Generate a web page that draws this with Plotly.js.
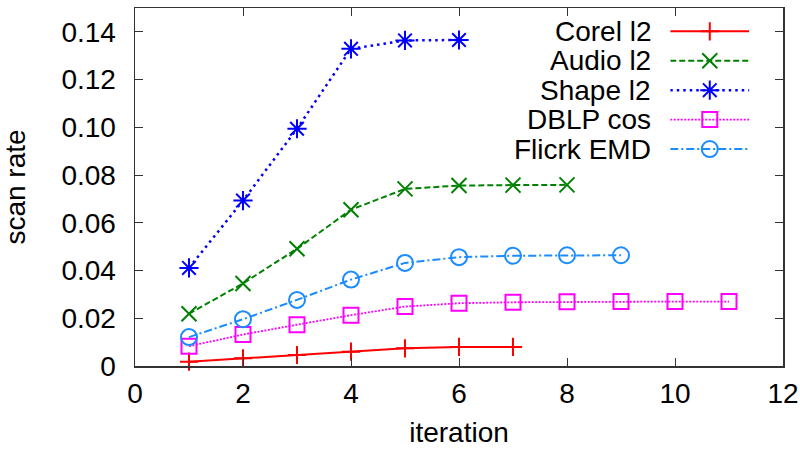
<!DOCTYPE html>
<html>
<head>
<meta charset="utf-8">
<script src="https://cdn.plot.ly/plotly-3.0.1.min.js"></script>
<style>html,body{margin:0;padding:0;background:#fff;}#chart{width:800px;height:450px;}</style>
</head>
<body>
<div id="chart"></div>
<script>
// ---- data ----
const seriesNames = ["Corel l2", "Audio l2", "Shape l2", "DBLP cos", "Flicrk EMD"];
const corelX = [1, 2, 3, 4, 5, 6, 7];
const corelY = [0.0018, 0.0032, 0.0046, 0.0060, 0.0074, 0.0080, 0.0080];
const audioX = [1, 2, 3, 4, 5, 6, 7, 8];
const audioY = [0.0219, 0.0346, 0.0491, 0.0655, 0.0742, 0.0756, 0.0758, 0.0759];
const shapeX = [1, 2, 3, 4, 5, 6];
const shapeY = [0.0411, 0.0693, 0.0994, 0.1329, 0.1364, 0.1366];
const dblpX = [1, 2, 3, 4, 5, 6, 7, 8, 9, 10, 11];
const dblpY = [0.0083, 0.0132, 0.0173, 0.0213, 0.0249, 0.0263, 0.0267, 0.0269, 0.0270, 0.0270, 0.0270];
const flickrX = [1, 2, 3, 4, 5, 6, 7, 8, 9];
const flickrY = [0.0121, 0.0196, 0.0277, 0.0362, 0.0432, 0.0456, 0.0462, 0.0464, 0.0464];
const yTickVals = [0, 0.02, 0.04, 0.06, 0.08, 0.10, 0.12, 0.14];
const yTickText = ["0", "0.02", "0.04", "0.06", "0.08", "0.10", "0.12", "0.14"];
const xTickVals = [0, 2, 4, 6, 8, 10, 12];

// ---- styles ----
const styles = [
  {color: "#ff0000", dash: "solid", width: 2, symbol: "cross-thin", size: 13},
  {color: "#008000", dash: "6px,3px", width: 2, symbol: "x-thin", size: 15},
  {color: "#0000ff", dash: "2.5px,4px", width: 2.5, symbol: "asterisk", size: 16},
  {color: "#ff00ff", dash: "2px,1.5px", width: 1.8, symbol: "square-open", size: 15},
  {color: "#1a8cff", dash: "8px,3px,2px,3px", width: 2, symbol: "circle-open", size: 16}
];
const xs = [corelX, audioX, shapeX, dblpX, flickrX];
const ys = [corelY, audioY, shapeY, dblpY, flickrY];

const font = {family: "Liberation Sans, Arial, sans-serif", size: 28, color: "#000"};
const traces = [];
for (let i = 0; i < seriesNames.length; i++) {
  const s = styles[i];
  traces.push({
    x: xs[i], y: ys[i], type: "scatter", mode: "lines+markers", name: seriesNames[i],
    line: {color: s.color, dash: s.dash, width: s.width},
    marker: {symbol: s.symbol, size: s.size, color: s.color, line: {color: s.color, width: 2}},
    cliponaxis: false, showlegend: false
  });
}
// custom gnuplot-style key (text left, sample right) on auxiliary axes
const annotations = [];
for (let i = 0; i < seriesNames.length; i++) {
  const s = styles[i];
  traces.push({
    x: [0, 1], y: [i, i], xaxis: "x2", yaxis: "y2", type: "scatter", mode: "lines",
    line: {color: s.color, dash: s.dash, width: s.width}, showlegend: false, hoverinfo: "skip", cliponaxis: false
  });
  traces.push({
    x: [0.5], y: [i], xaxis: "x2", yaxis: "y2", type: "scatter", mode: "markers",
    marker: {symbol: s.symbol, size: s.size, color: s.color, line: {color: s.color, width: 2}},
    showlegend: false, hoverinfo: "skip", cliponaxis: false
  });
  annotations.push({
    x: 0, y: i, xref: "x2", yref: "y2", text: seriesNames[i], showarrow: false,
    xanchor: "right", yanchor: "middle", xshift: -17, font: font
  });
}

const layout = {
  width: 800, height: 450,
  margin: {l: 135, r: 17, t: 8, b: 84},
  paper_bgcolor: "#fff", plot_bgcolor: "#fff",
  font: font,
  showlegend: false,
  xaxis: {
    range: [0, 12], tickvals: xTickVals, ticktext: xTickVals.map(String),
    ticks: "inside", ticklen: 8, tickwidth: 1, tickcolor: "#333",
    showline: true, linecolor: "#333", linewidth: 1.5, mirror: "ticks",
    showgrid: false, zeroline: false,
    tickfont: font, ticklabelstandoff: 2,
    title: {text: "iteration", font: font, standoff: 14}
  },
  yaxis: {
    range: [0, 0.15], tickvals: yTickVals, ticktext: yTickText,
    ticks: "inside", ticklen: 8, tickwidth: 1, tickcolor: "#333",
    showline: true, linecolor: "#333", linewidth: 1.5, mirror: "ticks",
    showgrid: false, zeroline: false,
    tickfont: font, ticklabelstandoff: 12,
    title: {text: "scan rate", font: font, standoff: 30}
  },
  xaxis2: {domain: [0.826, 0.948], range: [0, 1], visible: false, anchor: "y2"},
  yaxis2: {domain: [0.565, 0.976], range: [4.5, -0.5], visible: false, anchor: "x2"},
  annotations: annotations
};
Plotly.newPlot("chart", traces, layout, {displayModeBar: false, staticPlot: true});
</script>
</body>
</html>
